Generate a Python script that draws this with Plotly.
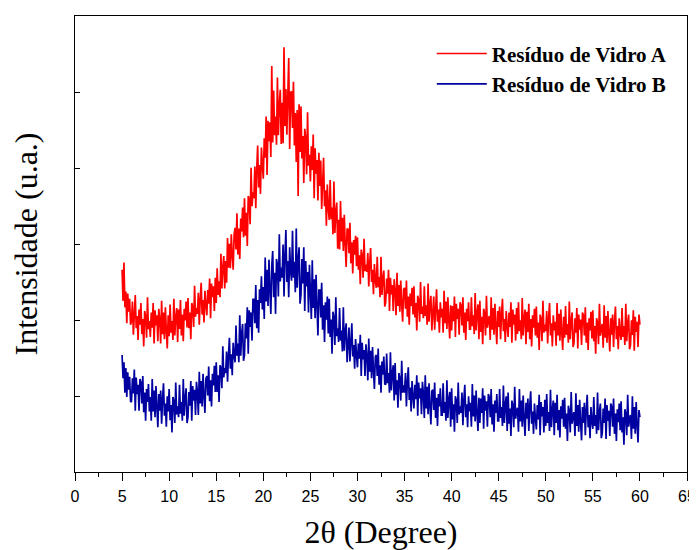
import plotly.graph_objects as go

# scan grid: 5.0 to 60.0 deg, step 0.1
scan_start = 5.0
scan_step = 0.1

# Resíduo de Vidro A (a.u.), one row per degree (5 ... 59), then 60.0
red_A = [
248,205,258,196,218,174,215,190,208,172,
177,204,158,193,213,167,184,151,193,172,
202,159,180,142,191,184,154,210,166,177,
155,189,168,202,146,192,171,185,149,194,
179,146,205,159,189,152,196,163,139,185,
156,200,161,177,151,208,157,183,195,148,
193,166,206,157,186,149,194,178,204,168,
209,167,189,152,202,197,169,226,183,195,
187,216,172,208,230,186,206,175,219,199,
185,220,201,236,181,229,210,225,191,237,
202,250,213,232,210,270,222,251,267,222,
260,230,292,251,284,250,297,268,248,297,
306,276,326,269,305,263,319,301,334,293,
347,295,327,281,350,346,311,389,336,355,
347,391,333,386,420,362,393,353,417,393,
374,430,403,460,379,454,426,452,404,530,
424,496,434,460,421,514,434,476,497,422,
479,423,556,447,498,435,510,541,415,493,
495,444,508,420,465,397,469,350,477,411,
474,402,433,368,443,431,380,466,392,407,
370,419,386,435,347,416,381,400,344,410,
364,399,332,378,403,336,358,309,366,333,
317,372,318,334,297,370,299,328,341,277,
317,276,343,287,320,274,324,283,252,305,
304,271,313,257,286,243,289,269,295,253,
293,248,268,228,276,268,237,291,246,255,
245,271,225,258,278,231,248,214,256,233,
223,266,224,238,210,266,213,236,247,197,
203,236,215,248,191,237,214,227,191,235,
219,185,244,198,227,190,233,200,176,221,
223,194,233,183,211,172,215,198,223,186,
225,182,202,164,212,206,176,231,187,197,
181,225,184,199,172,229,176,201,212,164,
183,211,165,200,221,176,193,161,203,182,
194,161,219,174,204,166,210,178,153,199,
164,198,177,211,155,201,180,194,158,203,
199,171,210,161,189,151,194,177,203,166,
166,210,170,185,159,216,164,188,200,152,
205,162,183,145,194,188,157,212,168,179,
184,151,210,165,195,158,201,169,145,191,
169,197,152,187,208,163,180,148,191,170,
155,189,169,203,147,193,172,186,150,195,
159,203,163,178,152,209,157,181,193,145,
190,162,201,152,180,142,185,168,194,157,
197,154,175,137,186,180,149,205,161,172,
163,191,146,181,202,157,174,142,185,164,
176,143,202,157,187,150,193,161,137,183,
154,198,158,173,147,204,152,177,189,141,
147,181,161,195,139,186,165,179,144,189,
185,157,196,147,175,137,181,164,190,153,
192,149,170,132,181,175,145,201,157,168,
173,140,199,154,184,147,191,159,135,181,
158,186,141,176,197,152,170,138,181,160,
151,195,155,170,144,201,149,174,186,138,
144,178,158,192,136,183,162,176,141,186,
172]

# Resíduo de Vidro B (a.u.), one row per degree (5 ... 59), then 60.0
blue_B = [
130,98,120,78,112,72,106,82,100,66,
65,98,77,110,53,99,76,89,53,97,
92,63,101,51,78,39,83,65,90,52,
72,39,97,52,81,44,87,55,30,76,
53,81,35,70,91,46,63,31,73,52,
83,40,61,23,72,66,36,92,48,59,
44,89,49,65,39,97,46,71,84,36,
44,79,60,94,39,87,67,82,47,93,
79,47,107,63,94,59,104,73,50,97,
101,74,114,66,95,59,104,88,115,79,
120,79,102,65,116,112,84,142,99,112,
105,135,93,130,154,111,131,102,147,129,
120,171,129,146,120,185,129,159,173,122,
130,174,153,196,132,192,169,189,150,207,
207,174,227,167,206,161,221,202,239,193,
224,180,265,204,248,198,262,219,187,254,
274,210,244,187,263,255,211,297,232,251,
237,283,211,268,303,231,260,210,279,246,
233,302,237,259,217,305,223,262,279,201,
213,263,229,279,191,260,225,245,189,255,
228,180,261,195,235,181,241,194,157,220,
220,182,230,165,199,148,203,179,211,160,
208,155,179,132,190,182,144,210,156,167,
148,195,150,164,135,196,136,163,174,120,
141,168,121,155,174,128,144,111,152,130,
113,146,125,158,101,147,124,137,101,145,
129,95,153,107,136,98,141,108,83,128,
130,101,139,89,116,78,121,103,128,90,
89,132,91,105,78,134,81,105,116,67,
119,75,95,57,105,98,67,122,78,88,
78,105,59,93,113,68,85,52,94,72,
56,89,69,102,46,92,70,84,48,93,
77,43,102,56,86,48,91,59,34,80,
82,54,92,43,71,32,76,59,84,47,
47,91,50,65,39,95,43,68,79,31,
84,41,62,24,73,67,36,92,48,59,
50,78,33,68,89,44,62,30,73,52,
64,31,90,45,74,38,81,49,25,71,
36,70,50,84,28,74,53,66,31,76,
72,44,83,34,62,24,67,50,76,39,
39,83,43,58,32,88,36,61,73,25,
78,35,56,18,67,60,30,86,42,52,
57,24,83,38,67,31,74,42,18,64,
42,70,25,60,80,35,52,21,63,42,
27,61,41,75,19,65,45,58,23,68,
32,76,36,51,25,82,30,55,67,19,
64,36,75,26,54,16,59,42,68,31,
71,28,49,11,60,53,23,79,35,46,
51,18,77,32,61,24,68,36,12,58,
36,64,19,54,75,30,47,15,58,37,
28,72,32,47,21,78,26,51,63,15,
22,56,36,70,14,61,39,53,18,63,
59,31,70,21,49,11,55,37,63,26,
66,23,44,6,55,49,19,75,31,42,
47,14,73,28,58,21,65,33,9,54,
44]

two_theta = [round(scan_start + scan_step * i, 1) for i in range(len(red_A))]

series_names = ["Resíduo de Vidro A", "Resíduo de Vidro B"]
series_colors = ["#FF0000", "#0000A0"]

x_ticks = list(range(0, 70, 5))
y_range = [-31.8, 599.1]
y_dtick = 105.15

fig = go.Figure()
for name, ys, col in zip(series_names, [red_A, blue_B], series_colors):
    fig.add_trace(go.Scatter(x=two_theta, y=ys, mode="lines", name=name,
                             line=dict(color=col, width=1.7)))

axis_common = dict(showline=True, linecolor="black", linewidth=1.3, mirror=True,
                   showgrid=False, zeroline=False, automargin=False)

# the page body keeps its default 8px margin; the figure is offset by it
fig.update_layout(
    width=689, height=542,
    margin=dict(l=67, r=10, t=8, b=78),
    paper_bgcolor="white", plot_bgcolor="white",
    xaxis=dict(range=[0, 65], tickvals=x_ticks, ticks="outside", ticklen=8,
               tickwidth=1.3, tickcolor="black", ticklabelstandoff=2,
               minor=dict(dtick=2.5, ticks="outside", ticklen=4, tickwidth=1.3,
                          tickcolor="black", showgrid=False),
               tickfont=dict(family="Liberation Sans", size=16, color="black"),
               title=dict(text="2θ (Degree)", standoff=22,
                          font=dict(family="Liberation Serif", size=32, color="black")),
               **axis_common),
    yaxis=dict(range=y_range, tick0=y_range[0], dtick=y_dtick, ticks="inside",
               ticklen=5, tickwidth=1.3, tickcolor="black", showticklabels=False,
               title=dict(text="Intensidade (u.a.)", standoff=27,
                          font=dict(family="Liberation Serif", size=32, color="black")),
               **axis_common),
    legend=dict(x=0.583, y=0.962, xanchor="left", yanchor="top", itemwidth=50,
                bgcolor="rgba(0,0,0,0)",
                font=dict(family="Liberation Serif", size=21, color="black", weight="bold")),
    showlegend=True,
)

fig.write_html("out.html")
